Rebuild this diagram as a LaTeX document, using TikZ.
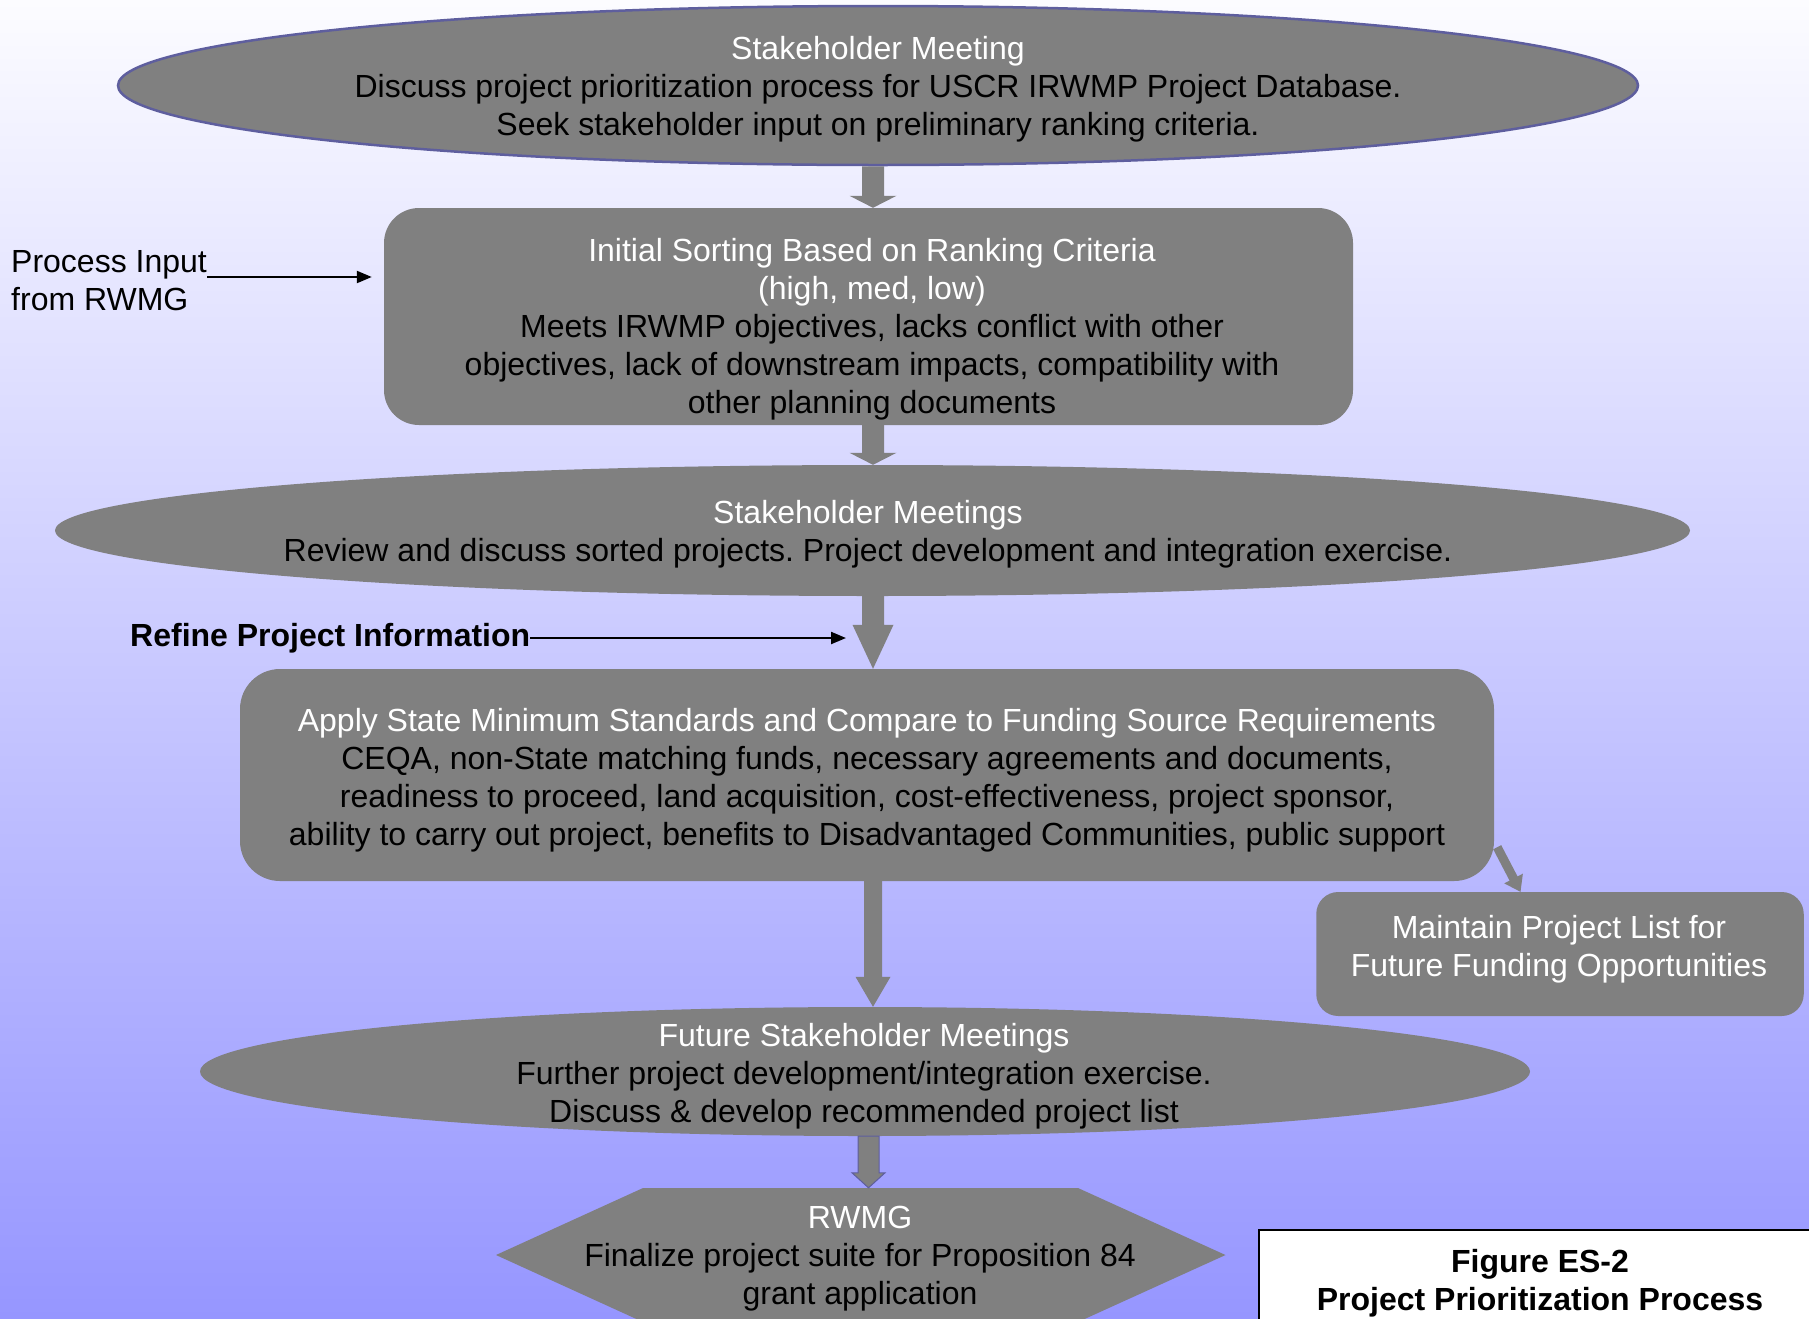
\documentclass[tikz,border=0pt]{standalone}
\usepackage{fontspec}
\setmainfont{Liberation Sans}
\usetikzlibrary{shapes.geometric,arrows.meta,calc}
\definecolor{nodegray}{RGB}{128,128,128}
\definecolor{bgtop}{RGB}{252,252,255}
\definecolor{bgbot}{RGB}{150,150,255}
\definecolor{rimblue}{RGB}{94,94,158}
\newcommand\wl[1]{\textcolor{white}{#1}}
% block arrow: [options]{start}{tip}{half shaft}{half head}{head length}
\newcommand\blockarrow[6][]{%
  \coordinate (bas) at (#2);
  \coordinate (bat) at (#3);
  \coordinate (bah) at ($(bat)!#6!(bas)$);
  \fill[nodegray,#1] ($(bas)!#4!90:(bat)$) -- ($(bah)!#4!90:(bat)$) -- ($(bah)!#5!90:(bat)$) -- (bat)
     -- ($(bah)!#5!-90:(bat)$) -- ($(bah)!#4!-90:(bat)$) -- ($(bas)!#4!-90:(bat)$) -- cycle;}
\frenchspacing
\begin{document}
\begin{tikzpicture}[x=1pt,y=-1pt,
  txt/.style={font=\fontsize{32}{38}\selectfont, align=center, inner sep=0pt},
  boldtxt/.style={font=\fontsize{32}{38}\selectfont\bfseries, align=center, inner sep=0pt},
  ell/.style={ellipse, fill=nodegray, inner sep=0pt},
  rbox/.style={rectangle, fill=nodegray, inner sep=0pt},
  thinarrow/.style={draw=black, line width=2.2pt, -{Triangle[length=15pt,width=12pt]}}]
\useasboundingbox (0,0) rectangle (1809,1318);
\shade[top color=bgtop, bottom color=bgbot] (0,0) rectangle (1809,1318);

% shapes
\node[ell, draw=rimblue, line width=2.5pt, minimum width=1520pt, minimum height=159pt] (e1) at (878,85.5) {};
\node[rbox, rounded corners=35pt, minimum width=969pt, minimum height=217pt] (b2) at (868.5,316.5) {};
\node[ell, minimum width=1635pt, minimum height=131pt] (e2) at (872.5,530.5) {};
\node[rbox, rounded corners=40pt, minimum width=1254pt, minimum height=212pt] (b3) at (867,775) {};
\node[rbox, rounded corners=22pt, minimum width=487.5pt, minimum height=124pt] (m) at (1560,954) {};
\node[ell, minimum width=1330pt, minimum height=129pt] (e4) at (865,1071.5) {};
\fill[nodegray] (643,1188) -- (1078,1188) -- (1225.5,1255) -- (1078,1322) -- (643,1322) -- (496,1255) -- cycle;
\node[minimum width=730pt, minimum height=134pt, inner sep=0pt] (hex) at (861,1255) {};
\node[draw=black, line width=2.5pt, fill=white, minimum width=571pt, minimum height=110pt, inner sep=0pt] (fig) at (1544.5,1285) {};

% block arrows
\coordinate (col) at (873,0);
\coordinate (col2) at (868.5,0);
\blockarrow{col |- e1.south}{col |- b2.north}{11pt}{23.5pt}{12pt}
\blockarrow{col |- b2.south}{col |- e2.north}{11pt}{23.5pt}{12pt}
\blockarrow{col |- e2.south}{col |- b3.north}{11pt}{20.5pt}{44pt}
\blockarrow{col |- b3.south}{col |- e4.north}{9pt}{17.5pt}{30pt}
\blockarrow[draw=rimblue, line width=1pt]{col2 |- e4.south}{col2 |- hex.north}{10.5pt}{16.5pt}{15pt}
\blockarrow{$(b3.south east)+(3,-34)$}{$(m.north)+(-39.5,0)$}{4.5pt}{10.5pt}{15pt}

% texts
\node[txt] (e1t) at (878,89.5) {\wl{Stakeholder Meeting}\\Discuss project prioritization process for USCR IRWMP Project Database.\\Seek stakeholder input on preliminary ranking criteria.};
\node[txt] (b2t) at (872,329.5) {\wl{Initial Sorting Based on Ranking Criteria}\\\wl{(high, med, low)}\\Meets IRWMP objectives, lacks conflict with other\\objectives, lack of downstream impacts, compatibility with\\other planning documents};
\node[txt] (e2t) at (868,534.5) {\wl{Stakeholder Meetings}\\Review and discuss sorted projects. Project development and integration exercise.};
\node[txt] (b3t) at (867,780.5) {\wl{Apply State Minimum Standards and Compare to Funding Source Requirements}\\CEQA, non-State matching funds, necessary agreements and documents,\\readiness to proceed, land acquisition, cost-effectiveness, project sponsor,\\ability to carry out project, benefits to Disadvantaged Communities, public support};
\node[txt] (mt) at (1559,949) {\wl{Maintain Project List for}\\\wl{Future Funding Opportunities}};
\node[txt] (e4t) at (864,1076.5) {\wl{Future Stakeholder Meetings}\\Further project development/integration exercise.\\Discuss \& develop recommended project list};
\node[txt] (hext) at (860,1258.5) {\wl{RWMG}\\Finalize project suite for Proposition 84\\grant application};
\node[boldtxt] (figt) at (1540,1283) {Figure ES-2\\Project Prioritization Process};

% side inputs
\node[txt, align=left, anchor=west] (pin) at (11,281) {Process Input\\from RWMG};
\coordinate (pinout) at ($(pin.east)+(0,-4)$);
\draw[thinarrow, shorten >=12pt] (pinout) -- (pinout -| b2.west);
\node[boldtxt, anchor=west] (ref) at (130,638) {Refine Project Information};
\draw[thinarrow, shorten >=27pt] (ref.east) -- (ref.east -| col);
\end{tikzpicture}
\end{document}
